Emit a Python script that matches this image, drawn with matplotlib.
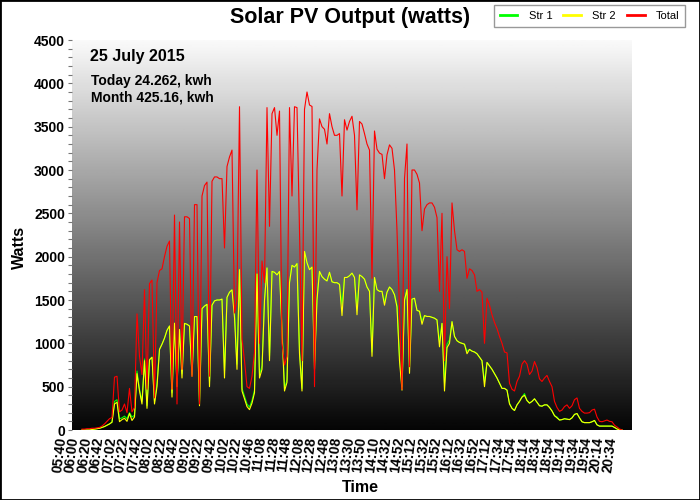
import numpy as np
import matplotlib.pyplot as plt
from matplotlib.patches import Rectangle
from matplotlib.ticker import MultipleLocator

plt.rcParams['font.family'] = ['Liberation Sans', 'DejaVu Sans']

# one label every 5 samples, first sample drawn is sample 9
times = ['05:40', '06:00', '06:20', '06:42', '07:02', '07:22', '07:42', '08:02', '08:22',
         '08:42', '09:02', '09:22', '09:42', '10:02', '10:22', '10:46', '11:08', '11:28',
         '11:48', '12:08', '12:28', '12:48', '13:08', '13:30', '13:50', '14:10', '14:32',
         '14:52', '15:12', '15:32', '15:52', '16:12', '16:32', '16:52', '17:12', '17:34',
         '17:54', '18:14', '18:34', '18:54', '19:14', '19:34', '19:54', '20:14', '20:34']
first_sample = 9

total = [10, 10, 15, 15, 20, 20, 25, 30, 45, 70,
         100, 130, 145, 610, 620, 210, 230, 300, 200, 480,
         210, 260, 1340, 850, 640, 1620, 470, 1690, 1730, 370,
         1700, 1840, 1860, 2000, 2120, 2180, 470, 2480, 300, 2400,
         700, 2460, 2460, 2440, 620, 2600, 2600, 300, 2700, 2820,
         2860, 620, 2870, 2920, 2920, 2900, 2900, 2100, 3040, 3150,
         3230, 1350, 1500, 3730, 1050, 800, 500, 480, 620, 900,
         3000, 1000, 1950, 1700, 3720, 2350, 3650, 3720, 3400, 3680,
         1000, 750, 850, 3720, 2700, 3730, 3720, 2300, 800, 3700,
         3900, 3750, 3733, 500, 3000, 3590, 3500, 3470, 3300, 3650,
         3500, 3400, 3400, 3420, 2700, 3580, 3460, 3560, 3620, 3400,
         2540, 3560, 3530, 3420, 3300, 3230, 1750, 3450, 3240, 3195,
         3180, 2900, 3175, 3290, 3250, 3000, 2300, 1400, 470, 2900,
         3300, 730, 3000, 3000, 2950, 2850, 2300, 2550, 2600, 2620,
         2620, 2570, 2450, 1600, 2500, 800, 2000, 1400, 2620, 2300,
         2080, 2060, 2080, 2060, 1750, 1860, 1840, 1790, 1600, 1620,
         1590, 1000, 1520, 1440, 1330, 1240, 1170, 1080, 1000, 900,
         890, 540, 470, 450, 560, 620, 760, 800, 760, 640,
         680, 790, 720, 590, 560, 600, 630, 560, 500, 330,
         260, 215, 230, 270, 290, 250, 280, 350, 370, 250,
         215, 195, 195, 200, 230, 240, 150, 100, 95, 105,
         115, 100, 95, 55, 35, 12, 0]

str2 = [0, 0, 0, 0, 5, 10, 15, 20, 30, 40,
        55, 70, 90, 300, 320, 96, 120, 135, 100, 190,
        110, 150, 650, 450, 300, 800, 250, 810, 840, 300,
        500, 930, 990, 1060, 1150, 1200, 380, 1232, 500, 1160,
        600, 1230, 1220, 1200, 620, 1309, 1309, 280, 1400, 1430,
        1450, 500, 1440, 1490, 1500, 1500, 1510, 600, 1530, 1590,
        1617, 1300, 700, 1850, 450, 360, 270, 235, 310, 430,
        1800, 600, 700, 1500, 1870, 800, 1830, 1820, 1790, 1830,
        1150, 450, 550, 1700, 1900, 1880, 1920, 880, 450, 2060,
        1930, 1850, 1880, 700, 1500, 1830, 1770, 1740, 1720, 1820,
        1710, 1700, 1700, 1680, 1320, 1760, 1760, 1780, 1810, 1760,
        1330, 1790, 1770, 1740, 1650, 1600, 850, 1760, 1620, 1600,
        1600, 1440, 1590, 1650, 1620, 1560, 1420, 800, 460, 1500,
        1620, 654, 1510, 1520, 1380, 1370, 1220, 1320, 1310, 1310,
        1300, 1290, 1270, 960, 1230, 450, 950, 1000, 1250, 1080,
        1030, 1010, 1000, 990, 880, 930, 910, 900, 880, 840,
        800, 500, 780, 740, 700, 650, 600, 540, 480, 480,
        460, 300, 250, 225, 290, 330, 380, 400, 340, 310,
        330, 360, 320, 280, 275, 290, 290, 260, 220, 165,
        140, 115, 120, 130, 125, 120, 140, 180, 190, 140,
        95, 85, 85, 85, 95, 110, 60, 45, 45, 45,
        45, 45, 45, 30, 12, 0, 0]

str1 = [0, 0, 0, 0, 5, 10, 15, 20, 30, 40,
        55, 70, 90, 330, 350, 130, 140, 160, 130, 200,
        150, 170, 680, 470, 330, 820, 280, 810, 840, 330,
        540, 930, 990, 1060, 1150, 1200, 430, 1232, 540, 1160,
        650, 1230, 1220, 1200, 640, 1309, 1309, 330, 1400, 1430,
        1450, 560, 1440, 1490, 1500, 1500, 1510, 680, 1530, 1590,
        1617, 1380, 760, 1850, 480, 390, 300, 265, 340, 460,
        1800, 640, 740, 1500, 1870, 850, 1830, 1820, 1790, 1830,
        1200, 480, 580, 1700, 1900, 1880, 1920, 920, 480, 2060,
        1930, 1850, 1880, 780, 1530, 1830, 1770, 1740, 1720, 1820,
        1710, 1700, 1700, 1680, 1450, 1760, 1760, 1780, 1810, 1760,
        1400, 1790, 1770, 1740, 1650, 1600, 900, 1760, 1620, 1600,
        1600, 1480, 1590, 1650, 1620, 1560, 1440, 850, 500, 1500,
        1620, 740, 1510, 1520, 1380, 1370, 1260, 1320, 1310, 1310,
        1300, 1290, 1270, 1020, 1230, 540, 990, 1040, 1250, 1080,
        1030, 1010, 1000, 990, 910, 930, 910, 900, 880, 840,
        800, 560, 780, 740, 700, 650, 600, 540, 480, 480,
        460, 310, 250, 225, 290, 330, 380, 420, 340, 310,
        330, 360, 320, 280, 275, 290, 290, 260, 220, 165,
        150, 115, 120, 130, 125, 120, 140, 180, 190, 140,
        95, 85, 85, 85, 95, 110, 60, 45, 45, 45,
        45, 45, 45, 30, 12, 0, 0]

fig = plt.figure(figsize=(7, 5), dpi=100)
ax = fig.add_axes([72 / 700, 70 / 500, 560 / 700, 390 / 500])

x0, x1 = 5, 229
# grey gradient behind the plot, light at top, black at bottom
grad = np.linspace(0.98, 0.02, 256).reshape(-1, 1)
ax.imshow(grad, extent=[x0, x1, 0, 4500], aspect='auto', cmap='gray',
          vmin=0, vmax=1, zorder=0)

x = np.arange(len(total)) + first_sample
l1, = ax.plot(x, str1, color='#00ff00', lw=0.8, label='Str 1', zorder=2)
l2, = ax.plot(x, str2, color='#ffff00', lw=0.8, label='Str 2', zorder=3)
l3, = ax.plot(x, total, color='#ff0000', lw=0.8, label='Total', zorder=4)

ax.set_xlim(x0, x1)
ax.set_ylim(0, 4500)
for s in ax.spines.values():
    s.set_visible(False)

ax.set_yticks(range(0, 4501, 500))
ax.yaxis.set_minor_locator(MultipleLocator(100))
ax.tick_params(axis='y', which='both', direction='out', length=3, width=0.8,
               color='#777777', labelsize=10, pad=2)
for lab in ax.get_yticklabels():
    lab.set_fontweight('bold')
ax.set_xticks([])

for i, t in enumerate(times):
    ax.text(5 * i, -0.016, t, transform=ax.get_xaxis_transform(), rotation=83,
            ha='center', va='top', fontsize=10, fontweight='bold')

fig.text(0.5, 1 - 17 / 500, 'Solar PV Output (watts)', ha='center', va='center',
         fontsize=15.5, fontweight='bold')
fig.text(19 / 700, 1 - 247 / 500, 'Watts', rotation=90, ha='center', va='center',
         fontsize=11.5, fontweight='bold')
fig.text(360 / 700, 1 - 487 / 500, 'Time', ha='center', va='center',
         fontsize=11.5, fontweight='bold')

fig.text(90 / 700, 1 - 57 / 500, '25 July 2015', va='center', fontsize=11.5,
         fontweight='bold')
fig.text(91 / 700, 1 - 81 / 500, 'Today 24.262, kwh', va='center', fontsize=10,
         fontweight='bold')
fig.text(91 / 700, 1 - 97 / 500, 'Month 425.16, kwh', va='center', fontsize=10,
         fontweight='bold')

leg = fig.legend([l1, l2, l3], ['Str 1', 'Str 2', 'Total'], loc='center',
                 bbox_to_anchor=(589.5 / 700, 1 - 16 / 500), ncol=3, fontsize=8,
                 frameon=True, fancybox=False, edgecolor='#808080',
                 handlelength=1.6, columnspacing=1.0, handletextpad=1.0,
                 borderpad=0.5, borderaxespad=0)
leg.get_frame().set_linewidth(1.0)
for h in leg.legend_handles:
    h.set_linewidth(2)

fig.add_artist(Rectangle((0, 0), 1, 1, transform=fig.transFigure, fill=False,
                         edgecolor='black', lw=2))

fig.savefig('out.png', dpi=100)
